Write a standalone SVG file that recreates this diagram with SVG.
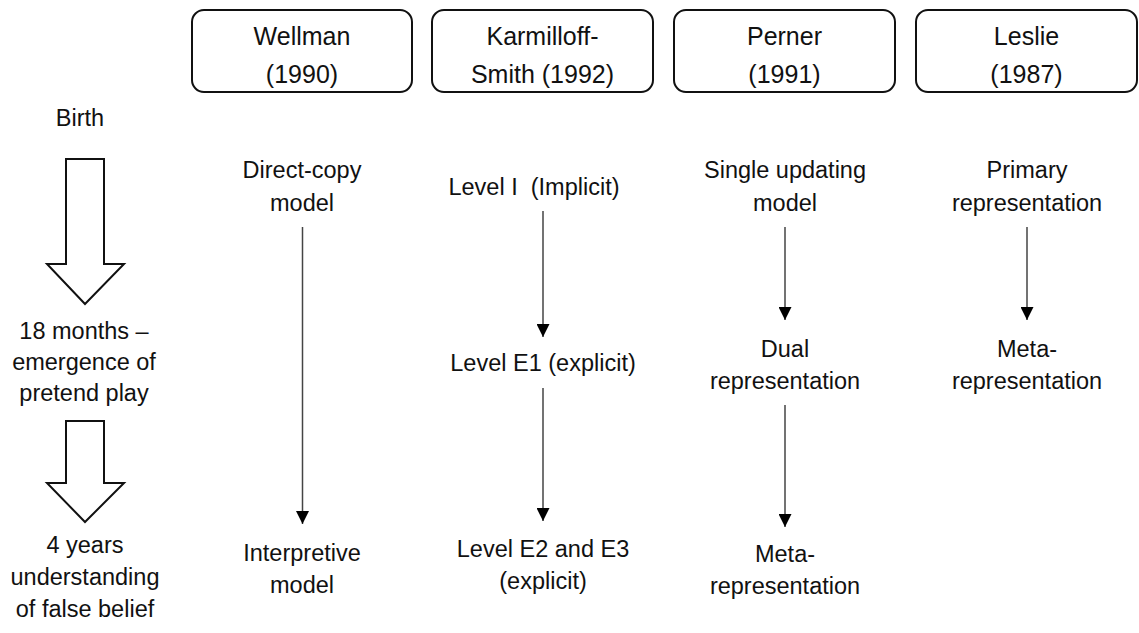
<svg xmlns="http://www.w3.org/2000/svg" width="1139" height="633" viewBox="0 0 1139 633">
  <style>
    text { font-family: "Liberation Sans", Arial, sans-serif; fill: #111; text-anchor: middle; }
    .hdr { font-size: 25px; }
    .lbl { font-size: 23.5px; }
    .box { fill: #fff; stroke: #111; stroke-width: 2; }
    .conn { stroke: #444; stroke-width: 1.5; fill: none; marker-end: url(#ah); }
    .block { fill: #fff; stroke: #111; stroke-width: 2; stroke-linejoin: miter; }
  </style>
  <defs>
    <marker id="ah" markerUnits="userSpaceOnUse" markerWidth="14" markerHeight="13" viewBox="0 0 14 13" refX="13" refY="6.5" orient="auto">
      <path d="M0,0 L13,6.5 L0,13 Z" fill="#000"/>
    </marker>
  </defs>
  <rect width="1139" height="633" fill="#fff"/>

  <g id="box-wellman">
    <rect class="box" x="192" y="10" width="220" height="82" rx="12"/>
    <text class="hdr" x="302" y="45">Wellman</text>
    <text class="hdr" x="302" y="83">(1990)</text>
  </g>
  <g id="box-karmiloff">
    <rect class="box" x="432" y="10" width="221" height="82" rx="12"/>
    <text class="hdr" x="542.5" y="45">Karmilloff-</text>
    <text class="hdr" x="542.5" y="83">Smith (1992)</text>
  </g>
  <g id="box-perner">
    <rect class="box" x="674" y="10" width="221" height="82" rx="12"/>
    <text class="hdr" x="784.5" y="45">Perner</text>
    <text class="hdr" x="784.5" y="83">(1991)</text>
  </g>
  <g id="box-leslie">
    <rect class="box" x="916" y="10" width="221" height="82" rx="12"/>
    <text class="hdr" x="1026.5" y="45">Leslie</text>
    <text class="hdr" x="1026.5" y="83">(1987)</text>
  </g>

  <g id="timeline">
    <text class="lbl" x="80" y="126">Birth</text>
    <polygon class="block" points="66,159 104,159 104,264 124,264 85,304 47,264 66,264"/>
    <text class="lbl" x="84" y="339">18 months –</text>
    <text class="lbl" x="84" y="370">emergence of</text>
    <text class="lbl" x="84" y="401">pretend play</text>
    <polygon class="block" points="66,421 104,421 104,483 124,483 85,522 47,483 66,483"/>
    <text class="lbl" x="85" y="553">4 years</text>
    <text class="lbl" x="85" y="585">understanding</text>
    <text class="lbl" x="85" y="617">of false belief</text>
  </g>

  <g id="n-direct-copy">
    <text class="lbl" x="302" y="178">Direct-copy</text>
    <text class="lbl" x="302" y="211">model</text>
  </g>
  <g id="n-interpretive">
    <text class="lbl" x="302" y="561">Interpretive</text>
    <text class="lbl" x="302" y="593">model</text>
  </g>
  <g id="n-level-i">
    <text class="lbl" x="534" y="195" xml:space="preserve">Level I  (Implicit)</text>
  </g>
  <g id="n-level-e1">
    <text class="lbl" x="543" y="371">Level E1 (explicit)</text>
  </g>
  <g id="n-level-e2">
    <text class="lbl" x="543" y="557">Level E2 and E3</text>
    <text class="lbl" x="543" y="589">(explicit)</text>
  </g>
  <g id="n-single-updating">
    <text class="lbl" x="785" y="178">Single updating</text>
    <text class="lbl" x="785" y="211">model</text>
  </g>
  <g id="n-dual">
    <text class="lbl" x="785" y="357">Dual</text>
    <text class="lbl" x="785" y="389">representation</text>
  </g>
  <g id="n-perner-meta">
    <text class="lbl" x="785" y="562">Meta-</text>
    <text class="lbl" x="785" y="594">representation</text>
  </g>
  <g id="n-primary">
    <text class="lbl" x="1027" y="178">Primary</text>
    <text class="lbl" x="1027" y="211">representation</text>
  </g>
  <g id="n-leslie-meta">
    <text class="lbl" x="1027" y="357">Meta-</text>
    <text class="lbl" x="1027" y="389">representation</text>
  </g>

  <g id="connectors">
    <line class="conn" x1="302.5" y1="227" x2="302.5" y2="524"/>
    <line class="conn" x1="543" y1="211" x2="543" y2="337"/>
    <line class="conn" x1="543" y1="388" x2="543" y2="521"/>
    <line class="conn" x1="785" y1="227" x2="785" y2="320"/>
    <line class="conn" x1="785" y1="405" x2="785" y2="527"/>
    <line class="conn" x1="1027" y1="227" x2="1027" y2="320"/>
  </g>
</svg>
